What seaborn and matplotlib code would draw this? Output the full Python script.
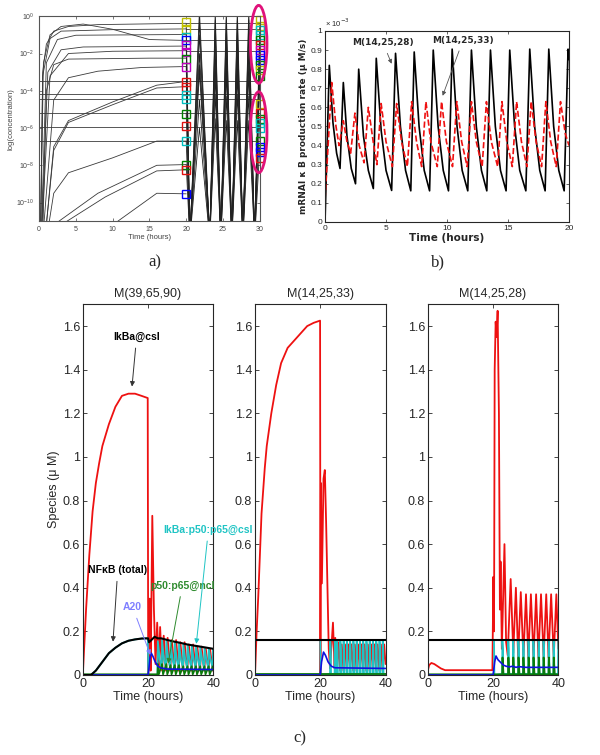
import pandas as pd
import seaborn as sns
import matplotlib
matplotlib.use("Agg")
import matplotlib.pyplot as plt
from matplotlib.patches import Ellipse
from matplotlib.ticker import NullLocator

# ---------------- panel a) : log10 concentrations ----------------
a_rise = [
    [(0.2, -12), (0.5, -3), (1, -1.5), (2, -0.8), (4, -0.55), (8, -0.45), (20, -0.38)],
    [(0.2, -12), (0.6, -2.5), (1.5, -1.0), (3, -0.55), (6, -0.42), (10, -0.7), (15, -1.25), (20, -1.3)],
    [(0.2, -12), (0.5, -3.2), (1.5, -1.2), (3, -0.8), (10, -0.72), (20, -0.68)],
    [(0.3, -12), (1, -2.5), (2.5, -1.25), (5, -1.02), (20, -0.98)],
    [(0.3, -12), (1.2, -3), (3, -1.8), (6, -1.65), (20, -1.6)],
    [(0.3, -12), (1.5, -3.2), (4, -2.0), (10, -1.88), (20, -1.85)],
    [(0.5, -12), (1, -4), (2, -2.6), (4, -2.3), (15, -2.25), (20, -2.25)],
    [(0.5, -12), (2, -4.5), (4, -3.3), (8, -2.95), (14, -2.75), (20, -2.7)],
    [(0.8, -12), (2, -7), (4, -5.6), (10, -4.6), (16, -3.7), (20, -3.5)],
    [(0.8, -12), (2, -7.2), (4, -5.7), (10, -4.75), (16, -3.85), (20, -3.78)],
    [(1, -12), (2, -9.5), (4, -8.4), (10, -7.6), (16, -6.7), (20, -6.7)],
    [(2, -11.2), (8, -9.5), (16, -8.0), (20, -7.96)],
    [(3, -11.2), (9, -9.7), (16, -8.3), (20, -8.24)],
    [(10, -11.2), (16, -9.5), (20, -9.53)],
]
a_flat = [-3.48, -4.16, -4.43, -5.2, -5.95, -6.7]
a_keep = [-0.38, -0.68, -1.3, -1.85]
a_osc_t = [20, 20.5, 21.8, 23.2, 23.95, 24.7, 25.45, 26.2, 26.95, 27.7, 28.5, 29.3, 30]
a_osc = [
    [-0.4, -12, 0.3, -12, 0.3, -12, 0.3, -12, 0.3, -12, 0.3, -12, -0.4],
    [-1.0, -12, -0.3, -12, -0.2, -12, -0.2, -12, -0.2, -12, -0.2, -12, -1.0],
    [-1.6, -12, -1.0, -12, -0.8, -12, -0.9, -12, -0.9, -12, -0.9, -12, -1.6],
    [-2.7, -12, -2.0, -12, -1.8, -12, -1.8, -12, -1.8, -12, -1.8, -12, -2.2],
    [-3.5, -11.5, -2.6, -11.5, -2.5, -11.5, -2.5, -11.5, -2.5, -11.5, -2.5, -11.5, -3.0],
    [-5.2, -12, -3.0, -12, -3.2, -12, -3.1, -12, -3.2, -12, -3.1, -12, -3.5],
    [-6.7, -12, -4.5, -12, -4.2, -12, -4.3, -12, -4.2, -12, -4.3, -12, -5.5],
    [-7.96, -12, -6.0, -12, -5.5, -12, -5.6, -12, -5.6, -12, -5.6, -12, -7.0],
]
a_sq20_v = [-0.31, -0.66, -1.11, -1.29, -1.56, -1.92, -2.27, -2.72, -3.53, -3.8,
            -4.25, -4.43, -5.23, -5.91, -6.72, -7.96, -8.24, -9.53]
a_sq20_c = ['y', 'y', 'c', 'b', 'm', 'm', 'g', 'm', 'r', 'r',
            'c', 'c', 'g', 'r', 'c', 'g', 'r', 'b']
a_sq30_v = [-0.2, -0.5, -0.75, -1.0, -1.3, -1.55, -1.8, -2.1, -2.35, -2.6, -2.9, -3.2,
            -4.7, -5.2, -5.5, -5.75, -6.0, -6.7, -7.0, -7.3, -7.6]
a_sq30_c = ['y', 'y', 'c', 'c', 'g', 'r', 'm', 'b', 'b', 'g', 'y', 'g',
            'y', 'r', 'g', 'c', 'c', 'g', 'b', 'b', 'r']
a_xticks = [0, 5, 10, 15, 20, 25, 30]

# ---------------- panel b) : production rate (x 1e-3 uM/s) ----------------
b_black = [(0, 0.0), (0.35, 0.82), (0.65, 0.52), (0.95, 0.36), (1.23, 0.28),
           (1.5, 0.73), (1.8, 0.45), (2.15, 0.28), (2.5, 0.20),
           (2.76, 0.80), (3.15, 0.45), (3.55, 0.27), (3.96, 0.175),
           (4.2, 0.857), (4.6, 0.48), (5.0, 0.27), (5.46, 0.165),
           (5.78, 0.883), (6.18, 0.5), (6.6, 0.27), (7.03, 0.163),
           (7.31, 0.89), (7.71, 0.5), (8.13, 0.27), (8.57, 0.163),
           (8.87, 0.90), (9.27, 0.5), (9.69, 0.27), (10.12, 0.163),
           (10.42, 0.905), (10.82, 0.5), (11.24, 0.27), (11.7, 0.163),
           (12.0, 0.90), (12.4, 0.5), (12.82, 0.27), (13.26, 0.163),
           (13.56, 0.90), (13.96, 0.5), (14.38, 0.27), (14.84, 0.163),
           (15.14, 0.90), (15.54, 0.5), (15.96, 0.27), (16.46, 0.163),
           (16.78, 0.905), (17.18, 0.5), (17.6, 0.27), (18.04, 0.163),
           (18.34, 0.905), (18.74, 0.5), (19.16, 0.27), (19.6, 0.163),
           (19.92, 0.905), (20.0, 0.85)]
b_red = [(0, 0.12), (0.55, 0.73), (0.9, 0.5), (1.15, 0.4),
         (1.5, 0.53), (1.8, 0.42), (2.1, 0.36),
         (2.45, 0.57), (2.8, 0.4), (3.2, 0.31),
         (3.55, 0.60), (3.95, 0.42), (4.25, 0.30),
         (4.6, 0.62), (5.0, 0.42), (5.52, 0.29),
         (5.87, 0.62), (6.27, 0.42), (6.75, 0.29),
         (7.1, 0.63), (7.5, 0.42), (7.92, 0.29),
         (8.27, 0.63), (8.67, 0.42), (9.2, 0.29),
         (9.55, 0.63), (9.95, 0.42), (10.45, 0.29),
         (10.8, 0.63), (11.2, 0.42), (11.65, 0.29),
         (12.0, 0.63), (12.4, 0.42), (12.88, 0.29),
         (13.23, 0.63), (13.63, 0.42), (14.15, 0.29),
         (14.5, 0.63), (14.9, 0.42), (15.35, 0.29),
         (15.7, 0.63), (16.1, 0.42), (16.55, 0.29),
         (16.9, 0.63), (17.3, 0.42), (17.75, 0.29),
         (18.1, 0.63), (18.5, 0.42), (18.95, 0.29),
         (19.3, 0.63), (19.7, 0.46), (20.0, 0.40)]
b_yticks = [0, 0.1, 0.2, 0.3, 0.4, 0.5, 0.6, 0.7, 0.8, 0.9, 1]
b_ylabels = ['0', '0.1', '0.2', '0.3', '0.4', '0.5', '0.6', '0.7', '0.8', '0.9', '1']
b_xticks = [0, 5, 10, 15, 20]

# ---------------- panel c) : species (uM) ----------------
c_titles = ['M(39,65,90)', 'M(14,25,33)', 'M(14,25,28)']
c_yticks = [0, 0.2, 0.4, 0.6, 0.8, 1, 1.2, 1.4, 1.6]
c_ylabels = ['0', '0.2', '0.4', '0.6', '0.8', '1', '1.2', '1.4', '1.6']
c_xticks = [0, 20, 40]

c1_red = [(0, 0), (1, 0.3), (2, 0.55), (3, 0.75), (4, 0.88), (5, 0.97), (6, 1.05), (8, 1.15),
          (10, 1.23), (12, 1.28), (14, 1.29), (16, 1.29), (18, 1.28), (19.9, 1.27), (20.05, 0.0),
          (20.5, 0.35), (20.8, 0.02), (21.3, 0.73), (21.8, 0.3), (22.3, 0.05), (22.8, 0.24),
          (23.3, 0.03), (23.7, 0.22), (24.3, 0.02), (24.8, 0.18), (25.5, 0.02), (26.0, 0.17),
          (26.8, 0.02), (27.3, 0.16), (28.1, 0.02), (28.6, 0.16), (29.4, 0.02), (29.9, 0.15),
          (30.7, 0.02), (31.2, 0.15), (32.0, 0.02), (32.5, 0.14), (33.3, 0.02), (33.8, 0.14),
          (34.6, 0.02), (35.1, 0.13), (35.9, 0.02), (36.4, 0.13), (37.2, 0.02), (37.7, 0.12),
          (38.5, 0.02), (39.0, 0.12), (39.8, 0.02), (40, 0.06)]
c1_black = [(0, 0), (2.5, 0), (4, 0.02), (6, 0.06), (8, 0.1), (10, 0.125), (12, 0.145), (14, 0.157),
            (16, 0.163), (18, 0.167), (20, 0.168), (20.3, 0.15), (21, 0.16), (22, 0.175), (23, 0.168),
            (24, 0.168), (26, 0.16), (28, 0.153), (30, 0.147), (32, 0.14), (34, 0.135), (36, 0.13),
            (38, 0.125), (40, 0.12)]
c1_cyan = [(0, 0), (2.5, 0), (4, 0.02), (6, 0.06), (8, 0.1), (10, 0.125), (12, 0.145), (14, 0.157),
           (16, 0.163), (18, 0.167), (19.95, 0.168), (20.05, 0.0), (22.9, 0.0),
           (23.0, 0.155), (23.6, 0.07), (24.25, 0.03), (24.3, 0.16), (24.9, 0.07), (25.55, 0.03),
           (25.6, 0.155), (26.2, 0.07), (26.85, 0.03), (26.9, 0.15), (27.5, 0.07), (28.15, 0.03),
           (28.2, 0.148), (28.8, 0.07), (29.45, 0.03), (29.5, 0.145), (30.1, 0.07), (30.75, 0.03),
           (30.8, 0.14), (31.4, 0.07), (32.05, 0.03), (32.1, 0.137), (32.7, 0.07), (33.35, 0.03),
           (33.4, 0.134), (34.0, 0.07), (34.65, 0.03), (34.7, 0.13), (35.3, 0.07), (35.95, 0.03),
           (36.0, 0.127), (36.6, 0.07), (37.25, 0.03), (37.3, 0.124), (37.9, 0.07), (38.55, 0.03),
           (38.6, 0.12), (39.2, 0.07), (39.85, 0.03), (39.9, 0.118), (40, 0.1)]
c1_blue = [(0, 0), (20, 0), (20.2, 0.02), (20.6, 0.08), (21, 0.1), (21.5, 0.085), (22.2, 0.06),
           (23, 0.04), (24, 0.032), (26, 0.027), (40, 0.025)]
c1_green = [(0, 0.003), (22.9, 0.003), (23.0, 0.05), (23.3, 0.003), (24.3, 0.05), (24.6, 0.003),
            (25.6, 0.05), (25.9, 0.003), (26.9, 0.045), (27.2, 0.003), (28.2, 0.045), (28.5, 0.003),
            (29.5, 0.045), (29.8, 0.003), (30.8, 0.04), (31.1, 0.003), (32.1, 0.04), (32.4, 0.003),
            (33.4, 0.04), (33.7, 0.003), (34.7, 0.04), (35.0, 0.003), (36.0, 0.04), (36.3, 0.003),
            (37.3, 0.04), (37.6, 0.003), (38.6, 0.04), (38.9, 0.003), (39.9, 0.04), (40, 0.02)]

c2_red = [(0, 0), (0.5, 0.2), (1, 0.36), (2, 0.74), (3, 0.95), (3.6, 1.05), (5, 1.2), (6.5, 1.33),
          (8, 1.43), (10, 1.5), (13, 1.55), (16, 1.6), (18, 1.615), (19.95, 1.625), (20.05, 0.0),
          (20.2, 0.88), (20.5, 0.42), (21.0, 0.9), (21.4, 0.94), (21.8, 0.7), (22.6, 0.12),
          (23.0, 0.03), (23.9, 0.24), (24.4, 0.03), (24.6, 0.17), (25.1, 0.02), (25.6, 0.15),
          (26.1, 0.02), (26.6, 0.14), (27.1, 0.02), (27.6, 0.14), (28.1, 0.02), (28.6, 0.14),
          (29.1, 0.02), (29.6, 0.14), (30.1, 0.02), (30.6, 0.14), (31.1, 0.02), (31.6, 0.14),
          (32.1, 0.02), (32.6, 0.14), (33.1, 0.02), (33.6, 0.14), (34.1, 0.02), (34.6, 0.14),
          (35.1, 0.02), (35.6, 0.14), (36.1, 0.02), (36.6, 0.14), (37.1, 0.02), (37.6, 0.14),
          (38.1, 0.02), (38.6, 0.14), (39.1, 0.02), (39.6, 0.14), (40, 0.05)]
c2_black = [(0, 0.16), (40, 0.16)]
c2_cyan = [(0, 0.16), (20.0, 0.16), (20.1, 0.0), (23.0, 0.005), (23.06, 0.155), (23.2, 0.12), (23.3, 0.005),
           (24.4, 0.005), (24.46, 0.155), (24.6, 0.12), (24.7, 0.005),
           (25.1, 0.005), (25.16, 0.155), (25.3, 0.12), (25.4, 0.005),
           (26.1, 0.005), (26.16, 0.155), (26.3, 0.12), (26.4, 0.005),
           (27.1, 0.005), (27.16, 0.155), (27.3, 0.12), (27.4, 0.005),
           (28.1, 0.005), (28.16, 0.155), (28.3, 0.12), (28.4, 0.005),
           (29.1, 0.005), (29.16, 0.155), (29.3, 0.12), (29.4, 0.005),
           (30.1, 0.005), (30.16, 0.155), (30.3, 0.12), (30.4, 0.005),
           (31.1, 0.005), (31.16, 0.155), (31.3, 0.12), (31.4, 0.005),
           (32.1, 0.005), (32.16, 0.155), (32.3, 0.12), (32.4, 0.005),
           (33.1, 0.005), (33.16, 0.155), (33.3, 0.12), (33.4, 0.005),
           (34.1, 0.005), (34.16, 0.155), (34.3, 0.12), (34.4, 0.005),
           (35.1, 0.005), (35.16, 0.155), (35.3, 0.12), (35.4, 0.005),
           (36.1, 0.005), (36.16, 0.155), (36.3, 0.12), (36.4, 0.005),
           (37.1, 0.005), (37.16, 0.155), (37.3, 0.12), (37.4, 0.005),
           (38.1, 0.005), (38.16, 0.155), (38.3, 0.12), (38.4, 0.005),
           (39.1, 0.005), (39.16, 0.155), (39.3, 0.12), (39.4, 0.005), (40, 0.005)]
c2_blue = [(0, 0), (20, 0), (20.4, 0.06), (21, 0.105), (21.6, 0.09), (22.4, 0.06), (23.4, 0.04),
           (24.5, 0.033), (40, 0.03)]
c2_green = [(0, 0.003), (40, 0.003)]

c3_red = [(0, 0.02), (0.4, 0.045), (1.1, 0.055), (2, 0.05), (3, 0.04), (4, 0.03), (5.3, 0.022),
          (19.8, 0.022), (20.1, 0.45), (20.3, 0.2), (20.5, 1.4), (20.8, 1.62), (21.1, 1.55),
          (21.4, 1.67), (21.8, 1.2), (22.1, 0.3), (22.3, 0.52), (22.7, 0.12), (23.5, 0.6),
          (24.0, 0.15), (24.5, 0.09), (25.4, 0.44), (26.2, 0.1), (27.0, 0.4), (27.7, 0.08),
          (28.5, 0.38), (29.3, 0.08), (30.1, 0.37), (30.8, 0.08), (31.6, 0.37), (32.4, 0.08),
          (33.2, 0.37), (33.9, 0.08), (34.7, 0.37), (35.5, 0.08), (36.3, 0.37), (37.0, 0.08),
          (37.8, 0.37), (38.6, 0.08), (39.4, 0.37), (40, 0.12)]
c3_black = [(0, 0.16), (40, 0.16)]
c3_cyan = [(0, 0.16), (20.3, 0.16), (20.4, 0.0), (22.8, 0.005), (22.86, 0.155), (23.0, 0.12), (23.1, 0.005),
           (24.6, 0.005), (24.66, 0.155), (24.8, 0.12), (24.9, 0.005),
           (26.1, 0.005), (26.16, 0.155), (26.3, 0.12), (26.4, 0.005),
           (27.7, 0.005), (27.76, 0.155), (27.9, 0.12), (28.0, 0.005),
           (29.2, 0.005), (29.26, 0.155), (29.4, 0.12), (29.5, 0.005),
           (30.8, 0.005), (30.86, 0.155), (31.0, 0.12), (31.1, 0.005),
           (32.3, 0.005), (32.36, 0.155), (32.5, 0.12), (32.6, 0.005),
           (33.9, 0.005), (33.96, 0.155), (34.1, 0.12), (34.2, 0.005),
           (35.4, 0.005), (35.46, 0.155), (35.6, 0.12), (35.7, 0.005),
           (37.0, 0.005), (37.06, 0.155), (37.2, 0.12), (37.3, 0.005),
           (38.5, 0.005), (38.56, 0.155), (38.7, 0.12), (38.8, 0.005), (39.9, 0.005), (40, 0.155)]
c3_blue = [(0, 0), (20, 0), (20.5, 0.06), (20.9, 0.087), (21.5, 0.07), (22.5, 0.055), (23.2, 0.045),
           (24, 0.04), (25, 0.037), (26, 0.04), (27, 0.035), (28, 0.038), (30, 0.035), (40, 0.035)]
c3_green = [(0, 0.003), (22.8, 0.003), (22.9, 0.08), (23.2, 0.003), (24.6, 0.003), (24.7, 0.08),
            (25.0, 0.003), (26.1, 0.003), (26.2, 0.08), (26.5, 0.003), (27.7, 0.003), (27.8, 0.08),
            (28.1, 0.003), (29.2, 0.003), (29.3, 0.08), (29.6, 0.003), (30.8, 0.003), (30.9, 0.08),
            (31.2, 0.003), (32.3, 0.003), (32.4, 0.08), (32.7, 0.003), (33.9, 0.003), (34.0, 0.08),
            (34.3, 0.003), (35.4, 0.003), (35.5, 0.08), (35.8, 0.003), (37.0, 0.003), (37.1, 0.08),
            (37.4, 0.003), (38.5, 0.003), (38.6, 0.08), (38.9, 0.003), (40, 0.003)]

# ---------------- styling ----------------
sns.set_style("ticks")
plt.rcParams['font.family'] = ['Liberation Sans', 'DejaVu Sans']
plt.rcParams['xtick.direction'] = 'in'
plt.rcParams['ytick.direction'] = 'in'
plt.rcParams['axes.linewidth'] = 0.8

mcol = {'y': '#bfbf00', 'c': '#00bfbf', 'm': '#bf00bf', 'g': '#008000', 'r': '#e01010', 'b': '#0000ff'}
RED, CYAN, BLUE, GREEN = '#ee1111', '#1fc4c4', '#1010e0', '#0a7a0a'


def line(ax, pts, log=False, **kw):
    df = pd.DataFrame(pts, columns=['t', 'v'])
    if log:
        df['v'] = 10.0 ** df['v']
    sns.lineplot(data=df, x='t', y='v', ax=ax, estimator=None, sort=False, **kw)


fig = plt.figure(figsize=(6, 7.55), dpi=100)

# ---- a)
axa = fig.add_axes([0.065, 0.707, 0.368, 0.2715])
axa.set_yscale('log')
for c in a_rise:
    line(axa, c, log=True, color='#3a3a3a', lw=0.6)
for v in a_flat:
    line(axa, [(0, v), (30, v)], log=True, color='#3a3a3a', lw=0.6)
for v in a_keep:
    line(axa, [(20, v), (30, v)], log=True, color='#3a3a3a', lw=0.6)
for vals in a_osc:
    line(axa, list(zip(a_osc_t, vals)), log=True, color='#222222', lw=0.6)
for v, c in zip(a_sq20_v, a_sq20_c):
    axa.plot([20], [10.0 ** v], marker='s', ms=6, mfc='none', mec=mcol[c], mew=1, clip_on=False)
for v, c in zip(a_sq30_v, a_sq30_c):
    axa.plot([30], [10.0 ** v], marker='s', ms=6, mfc='none', mec=mcol[c], mew=1, clip_on=False)
for yc, h in [(0.863, 0.38), (0.434, 0.395)]:
    axa.add_patch(Ellipse((0.995, yc), 0.075, h, transform=axa.transAxes, fill=False,
                          ec='#e0127a', lw=2, clip_on=False, zorder=5))
axa.set_xlim(0, 30)
axa.set_ylim(1e-11, 1e0)
axa.set_xticks(a_xticks)
axa.set_yticks([10.0 ** -k for k in range(0, 11, 2)])
axa.yaxis.set_minor_locator(NullLocator())
axa.tick_params(labelsize=5, length=2, width=0.5, colors='#444444', top=True, right=True)
axa.set_xlabel('Time (hours)', fontsize=5.5, color='#444444', labelpad=1)
axa.set_ylabel('log(concentration)', fontsize=5.5, color='#444444', labelpad=1)
for s in axa.spines.values():
    s.set_color('#555555')

# ---- b)
axb = fig.add_axes([0.5417, 0.706, 0.4067, 0.253])
line(axb, b_black, color='black', lw=1.2)
line(axb, b_red, color='#ee1111', lw=1.2, linestyle='--')
axb.set_xlim(0, 20)
axb.set_ylim(0, 1)
axb.set_xticks(b_xticks)
axb.set_yticks(b_yticks)
axb.set_yticklabels(b_ylabels)
axb.tick_params(labelsize=6, length=2.5, width=0.5, top=True, right=True, pad=2)
axb.set_xlabel('Time (hours)', fontsize=7.5, fontweight='bold', family='DejaVu Sans', labelpad=1)
axb.set_ylabel('mRNAI κ B production rate (μ M/s)', fontsize=6.5, fontweight='bold',
               family='DejaVu Sans', labelpad=2)
axb.text(0.0, 1.01, '× 10$^{-3}$', transform=axb.transAxes, fontsize=5.5, va='bottom')
arrow_b = dict(arrowstyle='-|>', color='#555555', lw=0.6, mutation_scale=6)
axb.annotate('M(14,25,28)', xy=(5.55, 0.815), xytext=(4.75, 0.937), ha='center', va='center',
             fontsize=6.5, fontweight='bold', family='DejaVu Sans', arrowprops=arrow_b)
axb.annotate('M(14,25,33)', xy=(9.56, 0.647), xytext=(11.3, 0.95), ha='center', va='center',
             fontsize=6.5, fontweight='bold', family='DejaVu Sans', arrowprops=arrow_b)

# ---- c)
c_left = [0.138, 0.425, 0.713]
c_data = [
    (c1_red, c1_cyan, c1_green, c1_blue, c1_black),
    (c2_red, c2_cyan, c2_green, c2_blue, c2_black),
    (c3_red, c3_cyan, c3_green, c3_blue, c3_black),
]
axes_c = []
for i in range(3):
    ax = fig.add_axes([c_left[i], 0.106, 0.2175, 0.491])
    red, cyan, green, blue, black = c_data[i]
    line(ax, red, color=RED, lw=1.3)
    line(ax, cyan, color=CYAN, lw=1.3)
    line(ax, green, color=GREEN, lw=1.3)
    line(ax, blue, color=BLUE, lw=1.2)
    line(ax, black, color='black', lw=1.5)
    ax.set_xlim(0, 40)
    ax.set_ylim(0, 1.7)
    ax.set_xticks(c_xticks)
    ax.set_yticks(c_yticks)
    ax.set_yticklabels(c_ylabels)
    ax.tick_params(labelsize=9, length=3, width=0.6, top=True, right=True, pad=2)
    ax.set_title(c_titles[i], fontsize=9, pad=5)
    ax.set_xlabel('Time (hours)', fontsize=9, labelpad=1)
    ax.set_ylabel('')
    axes_c.append(ax)

ax1 = axes_c[0]
ax1.set_zorder(3)
ax1.set_ylabel('Species (μ M)', fontsize=9, labelpad=2)


def note(ax, txt, tip, pos, col, acol=None):
    ax.annotate(txt, xy=tip, xytext=pos, ha='center', va='center', fontsize=7.5, fontweight='bold',
                color=col, annotation_clip=False,
                arrowprops=dict(arrowstyle='-|>', color=acol or col, lw=0.7, mutation_scale=7))


note(ax1, 'IkBa@csl', (15, 1.31), (16.5, 1.55), 'black', '#333333')
note(ax1, 'NFκB (total)', (9.2, 0.14), (10.7, 0.48), 'black', '#333333')
note(ax1, 'A20', (21, 0.08), (15.3, 0.31), '#7f7fff')
note(ax1, 'p50:p65@ncl', (26, 0.04), (30.5, 0.41), '#2e8b2e')
note(ax1, 'IkBa:p50:p65@csl', (34.7, 0.13), (38.5, 0.665), CYAN)

fig.text(0.258, 0.653, 'a)', fontsize=12, family='Liberation Serif', ha='center', va='center')
fig.text(0.73, 0.653, 'b)', fontsize=12, family='Liberation Serif', ha='center', va='center')
fig.text(0.5, 0.022, 'c)', fontsize=12, family='Liberation Serif', ha='center', va='center')

fig.savefig('out.png', dpi=100)
